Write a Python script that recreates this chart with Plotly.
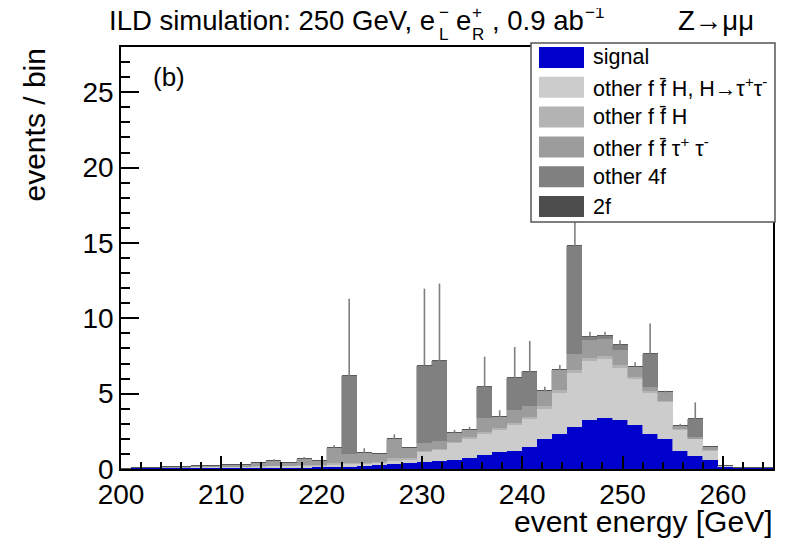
import numpy as np
import plotly.graph_objects as go

# ---------------- data (events / bin, 1.5 GeV bins) ----------------
bin_centers = [200.25, 201.75, 203.25, 204.75, 206.25, 207.75, 209.25, 210.75, 212.25, 213.75,
               215.25, 216.75, 218.25, 219.75, 221.25, 222.75, 224.25, 225.75, 227.25, 228.75,
               230.25, 231.75, 233.25, 234.75, 236.25, 237.75, 239.25, 240.75, 242.25, 243.75,
               245.25, 246.75, 248.25, 249.75, 251.25, 252.75, 254.25, 255.75, 257.25, 258.75,
               260.25, 261.75, 263.25, 264.75]
bin_width = 1.5

signal = [0.00, 0.05, 0.06, 0.06, 0.06, 0.06, 0.06, 0.06, 0.06, 0.07,
          0.07, 0.08, 0.09, 0.10, 0.12, 0.15, 0.18, 0.25, 0.30, 0.38,
          0.45, 0.50, 0.58, 0.75, 0.93, 1.10, 1.20, 1.49, 1.98, 2.33,
          2.78, 3.22, 3.38, 3.22, 2.93, 2.31, 1.98, 1.22, 0.87, 0.60,
          0.15, 0.06, 0.06, 0.06]
ffH_tautau = [0.01, 0.01, 0.01, 0.02, 0.02, 0.04, 0.05, 0.06, 0.07, 0.08,
              0.10, 0.10, 0.11, 0.11, 0.13, 0.15, 0.14, 0.15, 0.25, 0.24,
              0.65, 0.75, 1.12, 1.25, 1.37, 1.50, 1.70, 1.81, 2.02, 2.72,
              3.60, 3.93, 3.93, 3.49, 3.02, 2.74, 2.44, 1.38, 1.11, 0.58,
              0.05, 0.00, 0.00, 0.00]
ffH = [0.00, 0.00, 0.00, 0.01, 0.00, 0.02, 0.02, 0.02, 0.02, 0.04,
       0.05, 0.03, 0.07, 0.05, 0.15, 0.10, 0.10, 0.08, 0.20, 0.12,
       0.10, 0.10, 0.10, 0.10, 0.15, 0.12, 0.15, 0.15, 0.18, 0.20,
       0.20, 0.20, 0.20, 0.18, 0.15, 0.10, 0.12, 0.05, 0.03, 0.05,
       0.00, 0.00, 0.00, 0.00]
fftautau = [0.02, 0.00, 0.02, 0.03, 0.02, 0.08, 0.07, 0.11, 0.12, 0.21,
            0.28, 0.19, 0.40, 0.30, 0.98, 0.60, 0.63, 0.52, 1.22, 0.65,
            0.50, 0.50, 0.60, 0.50, 0.92, 0.73, 0.85, 0.75, 0.98, 1.30,
            1.02, 1.20, 1.09, 1.01, 0.68, 0.30, 0.54, 0.20, 0.10, 0.20,
            0.02, 0.00, 0.00, 0.00]
other4f = [0.00, 0.00, 0.00, 0.00, 0.00, 0.00, 0.00, 0.00, 0.00, 0.00,
           0.00, 0.00, 0.00, 0.00, 0.00, 5.19, 0.00, 0.00, 0.00, 0.00,
           5.16, 5.32, 0.00, 0.00, 2.04, 0.00, 2.15, 2.25, 0.00, 0.00,
           7.20, 0.23, 0.22, 0.35, 0.00, 2.20, 0.00, 0.00, 1.20, 0.00,
           0.00, 0.00, 0.00, 0.00]
twof = [0.0] * 44
stat_err = [0.00, 0.00, 0.00, 0.00, 0.00, 0.00, 0.00, 0.00, 0.00, 0.00,
            0.15, 0.00, 0.13, 0.00, 0.22, 5.11, 0.33, 0.00, 0.33, 0.00,
            5.11, 5.13, 0.20, 0.20, 2.04, 0.45, 2.05, 2.05, 0.29, 0.35,
            5.70, 0.32, 0.28, 0.30, 0.31, 2.00, 0.12, 0.15, 1.11, 0.00,
            0.00, 0.00, 0.00, 0.00]

series_names = ["signal",
                "other f f\u0304 H, H\u2192\u03c4<sup>+</sup>\u03c4<sup>-</sup>",
                "other f f\u0304 H",
                "other f f\u0304 \u03c4<sup>+</sup> \u03c4<sup>-</sup>",
                "other 4f",
                "2f"]
series_values = [signal, ffH_tautau, ffH, fftautau, other4f, twof]
series_colors = ["#0000cc", "#cccccc", "#b3b3b3", "#9c9c9c", "#808080", "#4d4d4d"]

x_ticks = [200, 210, 220, 230, 240, 250, 260]
y_ticks = [0, 5, 10, 15, 20, 25]

# ---------------- figure ----------------
OFF = 8                     # page body margin added around the figure
W, H = 787 - OFF, 549 - OFF
L, T = 121 - OFF, 47 - OFF
PW, PH = 652, 422
R, B = W - L - PW, H - T - PH
FONT = "Liberation Sans, Arial, Helvetica, sans-serif"


def px(x):  # screen pixel -> paper x
    return (x - OFF - L) / PW


def py(y):  # screen pixel -> paper y
    return (T + PH - (y - OFF)) / PH


fig = go.Figure()
for name, vals, col in zip(series_names, series_values, series_colors):
    fig.add_trace(go.Bar(x=bin_centers, y=vals, width=bin_width, name=name,
                         marker=dict(color=col, line=dict(color=col, width=0.6)),
                         showlegend=False, hoverinfo="skip"))

total = np.sum(np.array(series_values), axis=0)
fig.add_trace(go.Scatter(x=bin_centers, y=total, mode="markers",
                         marker=dict(size=1, opacity=0),
                         error_y=dict(type="data", symmetric=False, array=stat_err,
                                      arrayminus=[0.0] * len(stat_err),
                                      color="#7f7f7f", thickness=1.6, width=0),
                         showlegend=False, hoverinfo="skip"))

shapes = []
annotations = []

# legend box
shapes.append(dict(type="rect", xref="paper", yref="paper",
                   x0=px(531), x1=px(775), y0=py(222), y1=py(43),
                   fillcolor="white", line=dict(color="#555555", width=1.5), layer="above"))
for i, (name, col) in enumerate(zip(series_names, series_colors)):
    cy = 57.5 + 29.8 * i
    shapes.append(dict(type="rect", xref="paper", yref="paper",
                       x0=px(539), x1=px(584), y0=py(cy + 10.5), y1=py(cy - 10.5),
                       fillcolor=col, line=dict(width=0), layer="above"))
    annotations.append(dict(xref="paper", yref="paper", x=px(590.5), y=py(cy),
                            xanchor="left", yanchor="middle", text=name, showarrow=False,
                            font=dict(family=FONT, size=21.5, color="black")))

# header
hdr = 27.5
sub = 17
pieces = [
    ("ILD simulation: 250 GeV, e", 107, 21, hdr),
    ("L", 436.5, 35, sub), ("\u2212", 436.5, 13, sub),
    ("e", 454, 21, hdr),
    ("R", 470, 35, sub), ("+", 470, 13, sub),
    (", 0.9 ab", 490, 21, hdr),
    ("\u22121", 582.5, 13, sub),
]
for txt, x, y, s in pieces:
    annotations.append(dict(xref="paper", yref="paper", x=px(x), y=py(y),
                            xanchor="left", yanchor="middle", text=txt, showarrow=False,
                            font=dict(family=FONT, size=s, color="black")))
annotations.append(dict(xref="paper", yref="paper", x=px(716), y=py(21),
                        xanchor="center", yanchor="middle", text="Z\u2192\u03bc\u03bc",
                        showarrow=False, font=dict(family=FONT, size=hdr, color="black")))
annotations.append(dict(xref="paper", yref="paper", x=px(151), y=py(77),
                        xanchor="left", yanchor="middle", text="(b)",
                        showarrow=False, font=dict(family=FONT, size=26, color="black")))
# axis titles (ROOT style, aligned to the end of the axes)
annotations.append(dict(xref="paper", yref="paper", x=px(775), y=py(521),
                        xanchor="right", yanchor="middle", text="event energy [GeV]",
                        showarrow=False, font=dict(family=FONT, size=30, color="black")))
annotations.append(dict(xref="paper", yref="paper", x=px(34), y=py(47),
                        xanchor="center", yanchor="top", text="events / bin", textangle=-90,
                        showarrow=False, font=dict(family=FONT, size=30, color="black")))

fig.update_layout(
    width=W, height=H, autosize=False,
    margin=dict(l=L, r=R, t=T, b=B, pad=0, autoexpand=False),
    barmode="stack", bargap=0,
    plot_bgcolor="white", paper_bgcolor="white",
    font=dict(family=FONT, color="black"),
    shapes=shapes, annotations=annotations,
    xaxis=dict(range=[200, 265], tickmode="array", tickvals=x_ticks,
               ticktext=[str(v) for v in x_ticks], automargin=False,
               ticks="inside", ticklen=13, tickwidth=1.5, tickcolor="black",
               showline=True, linecolor="black", linewidth=1.5, mirror=True,
               showgrid=False, zeroline=False,
               tickfont=dict(family=FONT, size=28, color="black"),
               minor=dict(dtick=2, tick0=200, ticks="inside", ticklen=7, tickwidth=1.5,
                          tickcolor="black", showgrid=False)),
    yaxis=dict(range=[0, 28], tickmode="array", tickvals=y_ticks,
               ticktext=[str(v) for v in y_ticks], automargin=False,
               ticks="inside", ticklen=18, tickwidth=1.5, tickcolor="black",
               showline=True, linecolor="black", linewidth=1.5, mirror=True,
               showgrid=False, zeroline=False,
               tickfont=dict(family=FONT, size=28, color="black"),
               minor=dict(dtick=1, tick0=0, ticks="inside", ticklen=9, tickwidth=1.5,
                          tickcolor="black", showgrid=False)),
)

fig.write_html("out.html")
